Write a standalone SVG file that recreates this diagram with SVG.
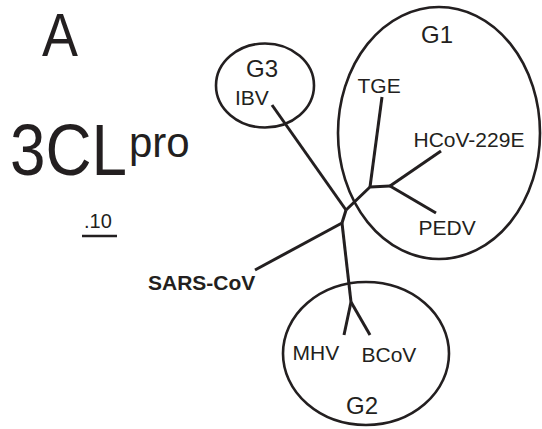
<svg xmlns="http://www.w3.org/2000/svg" width="542" height="429" viewBox="0 0 542 429">
<style>
text{font-family:"Liberation Sans",Arial,sans-serif;fill:#231f20}
.lbl{font-size:21px}
.grp{font-size:24px}
.ell{fill:none;stroke:#231f20;stroke-width:2.6}
.br{fill:none;stroke:#231f20;stroke-width:3;stroke-linecap:butt;stroke-linejoin:round}
</style>
<rect width="542" height="429" fill="#fff"/>
<text x="42" y="56" font-size="62" textLength="36" lengthAdjust="spacingAndGlyphs">A</text>
<text x="10" y="175" font-size="73" textLength="117" lengthAdjust="spacingAndGlyphs">3CL</text>
<text x="129" y="157" font-size="42">pro</text>
<g id="scale">
<text x="84" y="228" font-size="20">.10</text>
<line x1="82" y1="236" x2="117" y2="236" stroke="#231f20" stroke-width="2.6"/>
</g>
<g id="connectors">
<polyline class="br" points="272,105 346,210"/>
<polyline class="br" points="382,97 370,187"/>
<polyline class="br" points="346,210 370,187 390,186"/>
<polyline class="br" points="390,186 441,151"/>
<polyline class="br" points="390,186 436,213"/>
<polyline class="br" points="346,210 342,223"/>
<polyline class="br" points="255,270 342,223"/>
<polyline class="br" points="342,223 351,302"/>
<polyline class="br" points="351,302 344,335"/>
<polyline class="br" points="351,302 370,335"/>
</g>
<g id="G1">
<ellipse class="ell" cx="439" cy="133" rx="101" ry="126"/>
<text class="grp" x="421" y="43">G1</text>
</g>
<g id="G2">
<ellipse class="ell" cx="366" cy="353.5" rx="83" ry="71.5"/>
<text class="grp" x="346" y="414">G2</text>
</g>
<g id="G3">
<ellipse class="ell" cx="265" cy="85.5" rx="49" ry="42"/>
<text class="grp" x="246" y="77">G3</text>
</g>
<g id="IBV"><text class="lbl" x="235" y="105">IBV</text></g>
<g id="TGE"><text class="lbl" x="357.5" y="93">TGE</text></g>
<g id="HCoV-229E"><text class="lbl" x="413.5" y="147">HCoV-229E</text></g>
<g id="PEDV"><text class="lbl" x="418.5" y="235">PEDV</text></g>
<g id="MHV"><text class="lbl" x="292.5" y="360">MHV</text></g>
<g id="BCoV"><text class="lbl" x="361.5" y="362">BCoV</text></g>
<g id="SARS-CoV"><text x="148" y="290" font-size="21" font-weight="bold">SARS-CoV</text></g>
</svg>
